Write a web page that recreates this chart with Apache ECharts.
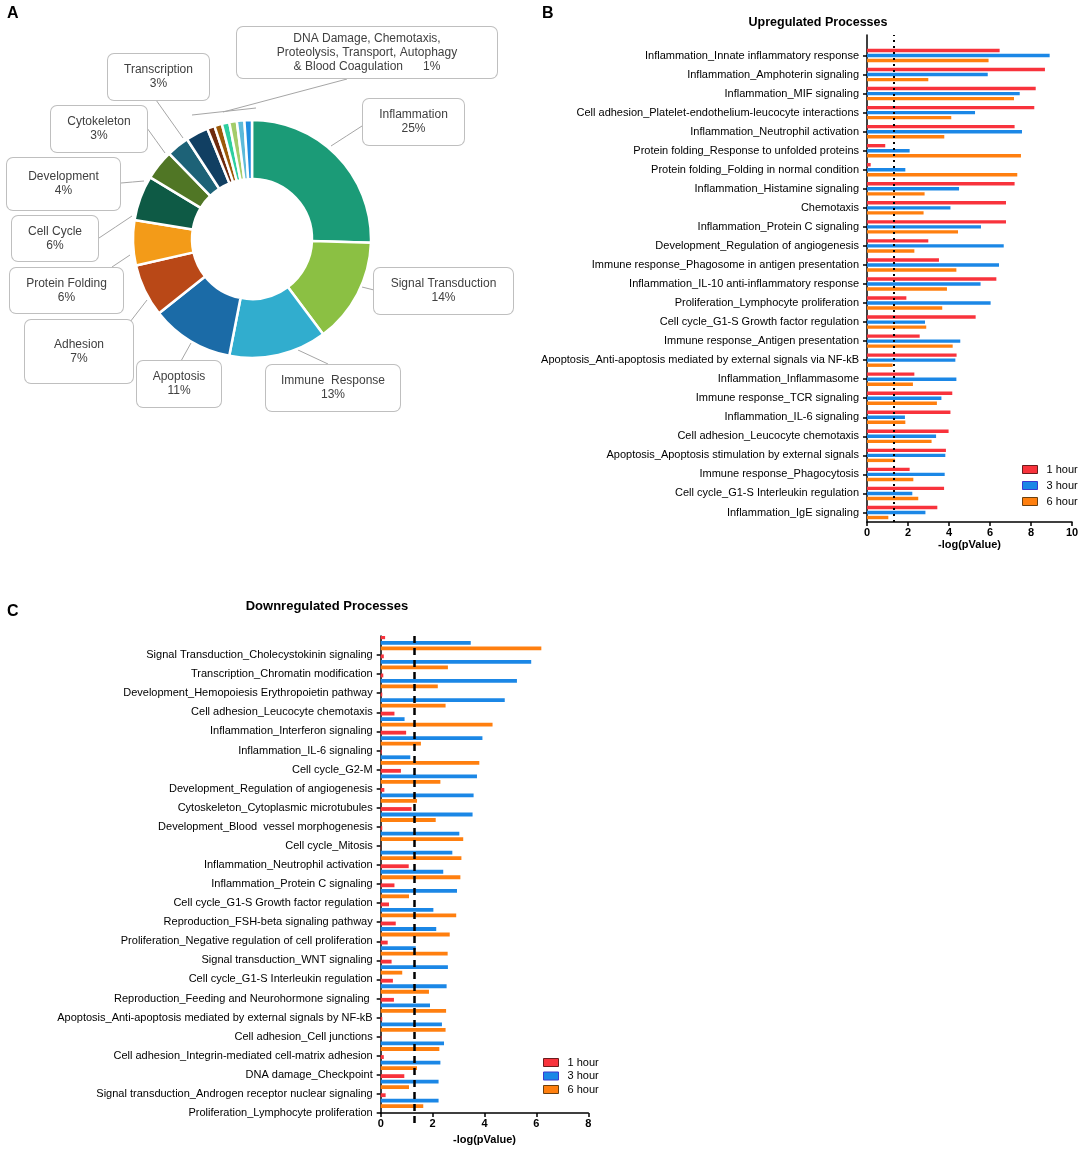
<!DOCTYPE html>
<html><head><meta charset="utf-8">
<script src="https://cdn.jsdelivr.net/npm/echarts@6/dist/echarts.min.js"></script>
<style>html,body{margin:0;padding:0;background:#fff}#c{width:1084px;height:1153px}</style>
</head><body><div id="c"></div>
<script>
// ---------- DATA ----------
const pieNames = ['Inflammation','Signal Transduction','Immune Response','Apoptosis','Adhesion','Protein Folding','Cell Cycle','Development','Cytoskeleton','Transcription','DNA Damage','Chemotaxis','Proteolysis','Transport','Autophagy','Blood Coagulation'];
const pieValues = [25,14,13,11,7,6,6,4,3,3,1,1,1,1,1,1];
const pieLabels = ['Inflammation\n25%','Signal Transduction\n14%','Immune  Response\n13%','Apoptosis\n11%','Adhesion\n7%','Protein Folding\n6%','Cell Cycle\n6%','Development\n4%','Cytokeleton\n3%','Transcription\n3%','DNA Damage, Chemotaxis,\nProteolysis, Transport, Autophagy\n& Blood Coagulation      1%',null,null,null,null,null];
const pieColors = ['#1b9b77','#8bc043','#31adce','#1b6ba7','#b94817','#f39b18','#0e5a45','#507625','#1d6277','#113f62','#6e2a0e','#9c5a08','#2dcf9f','#a3cc6a','#5cbad9','#1f8ce0'];

const seriesNames = ['1 hour','3 hour','6 hour'];
const seriesColors = ['#f8333c','#1b87e6','#ff7f0f'];
const legendBorders = ['#6b1d1d','#3a3ad0','#6b4010'];
const sigThreshold = 1.3;

const upCategories = ['Inflammation_Innate inflammatory response','Inflammation_Amphoterin signaling','Inflammation_MIF signaling','Cell adhesion_Platelet-endothelium-leucocyte interactions','Inflammation_Neutrophil activation','Protein folding_Response to unfolded proteins','Protein folding_Folding in normal condition','Inflammation_Histamine signaling','Chemotaxis','Inflammation_Protein C signaling','Development_Regulation of angiogenesis','Immune response_Phagosome in antigen presentation','Inflammation_IL-10 anti-inflammatory response','Proliferation_Lymphocyte proliferation','Cell cycle_G1-S Growth factor regulation','Immune response_Antigen presentation','Apoptosis_Anti-apoptosis mediated by external signals via NF-kB','Inflammation_Inflammasome','Immune response_TCR signaling','Inflammation_IL-6 signaling','Cell adhesion_Leucocyte chemotaxis','Apoptosis_Apoptosis stimulation by external signals','Immune response_Phagocytosis','Cell cycle_G1-S Interleukin regulation','Inflammation_IgE signaling'];
const up1h = [6.47,8.68,8.23,8.16,7.20,0.89,0.18,7.20,6.78,6.78,2.99,3.51,6.31,1.92,5.30,2.57,4.37,2.31,4.16,4.07,3.98,3.85,2.08,3.76,3.43];
const up3h = [8.91,5.89,7.45,5.27,7.56,2.08,1.87,4.49,4.07,5.56,6.67,6.44,5.54,6.03,2.83,4.55,4.31,4.36,3.63,1.85,3.37,3.82,3.79,2.21,2.85];
const up6h = [5.93,2.99,7.17,4.11,3.77,7.51,7.33,2.81,2.76,4.44,2.31,4.36,3.90,3.67,2.89,4.18,1.25,2.24,3.41,1.87,3.15,1.37,2.26,2.50,1.04];
const upAxisMax = 10;

const downCategories = ['Signal Transduction_Cholecystokinin signaling','Transcription_Chromatin modification','Development_Hemopoiesis Erythropoietin pathway','Cell adhesion_Leucocyte chemotaxis','Inflammation_Interferon signaling','Inflammation_IL-6 signaling','Cell cycle_G2-M','Development_Regulation of angiogenesis','Cytoskeleton_Cytoplasmic microtubules','Development_Blood  vessel morphogenesis','Cell cycle_Mitosis','Inflammation_Neutrophil activation','Inflammation_Protein C signaling','Cell cycle_G1-S Growth factor regulation','Reproduction_FSH-beta signaling pathway','Proliferation_Negative regulation of cell proliferation','Signal transduction_WNT signaling','Cell cycle_G1-S Interleukin regulation','Reproduction_Feeding and Neurohormone signaling ','Apoptosis_Anti-apoptosis mediated by external signals by NF-kB','Cell adhesion_Cell junctions','Cell adhesion_Integrin-mediated cell-matrix adhesion','DNA damage_Checkpoint','Signal transduction_Androgen receptor nuclear signaling','Proliferation_Lymphocyte proliferation'];
const down1h = [0.17,0.12,0.10,0.06,0.53,0.98,0.04,0.78,0.14,1.19,0.06,0.01,1.08,0.53,0.32,0.58,0.27,0.42,0.47,0.51,0.06,0.03,0.12,0.91,0.19];
const down3h = [3.47,5.80,5.25,4.78,0.92,3.92,1.14,3.71,3.58,3.54,3.03,2.76,2.41,2.94,2.03,2.14,1.35,2.59,2.54,1.90,2.36,2.44,2.30,2.23,2.23];
const down6h = [6.19,2.59,2.20,2.50,4.31,1.55,3.80,2.30,1.40,2.12,3.18,3.11,3.07,1.09,2.91,2.66,2.58,0.83,1.86,2.52,2.50,2.26,1.40,1.09,1.64];
const downAxisMax = 8;
const axisInterval = 2;

// ---------- LAYOUT (positions only) ----------
// [centerX, centerY, width, height, lineFromX, lineFromY, lineToX, lineToY]
const pieBoxes = [
  [413.5,122,101,46, 362,126, 331,146],
  [443.5,291,139,46, 374,290, 362,287],
  [333,388,134,46, 328,364, 298,350],
  [179,384,84,46, 181,361, 191,343],
  [79,351.5,108,63, 130,322, 147,300],
  [66.5,290.5,113,45, 112,267, 130,255],
  [55,238.5,86,45, 99,238, 132,216],
  [63.5,184,113,52, 121,183, 144,181],
  [99,129,96,46, 147,128, 165,153],
  [158.5,77,101,46, 156,100, 183,138],
  [367,52.5,260,51, 347,79, 223,112]
];
const FONT = 'Liberation Sans, Arial, Helvetica, sans-serif';

const chart = echarts.init(document.getElementById('c'), null, {renderer:'canvas'});

const pieData = pieNames.map((n,i)=>{
  const lab = pieLabels[i];
  const item = {name:n, value:pieValues[i], itemStyle:{color:pieColors[i]}};
  if (lab) {
    const b = pieBoxes[i];
    const lines = lab.split('\n').length;
    const pad = (b[3] - lines*14)/2;
    item.label = {show:true, formatter:lab, width:b[2], padding:[pad,0,pad,0]};
    item.labelLine = {show:true};
  } else {
    item.label = {show:false};
    item.labelLine = {show:false};
  }
  return item;
});

function catAxisLabel(){ return {fontSize:11, color:'#000', fontFamily:FONT, margin:8, interval:0}; }
const blackLine = {show:true, lineStyle:{color:'#000', width:1.5}};
function legendItems(){ return seriesNames.map((n,i)=>({name:n, itemStyle:{color:seriesColors[i], borderColor:legendBorders[i], borderWidth:1}})); }

const option = {
  animation:false,
  backgroundColor:'#fff',
  textStyle:{fontFamily:FONT},
  graphic:[
    {type:'text', x:7, y:6, style:{text:'A', font:'bold 16px '+FONT, fill:'#000'}},
    {type:'text', x:542, y:6, style:{text:'B', font:'bold 16px '+FONT, fill:'#000'}},
    {type:'text', x:7, y:604, style:{text:'C', font:'bold 16px '+FONT, fill:'#000'}},
    {type:'text', x:818, y:16, style:{text:'Upregulated Processes', font:'bold 12.5px '+FONT, fill:'#000', textAlign:'center'}},
    {type:'text', x:327, y:600, style:{text:'Downregulated Processes', font:'bold 13px '+FONT, fill:'#000', textAlign:'center'}},
    {type:'line', shape:{x1:192,y1:115,x2:256,y2:108}, style:{stroke:'#a6a6a6', lineWidth:1}}
  ],
  legend:[
    {left:1022, top:464, padding:0, orient:'vertical', itemWidth:15, itemHeight:8, itemGap:5, icon:'rect', selectedMode:false,
     textStyle:{fontSize:11, color:'#000', fontFamily:FONT, padding:[0,0,0,4]}, data:legendItems()},
    {left:543, top:1057, padding:0, orient:'vertical', itemWidth:15, itemHeight:8, itemGap:2.5, icon:'rect', selectedMode:false,
     textStyle:{fontSize:11, color:'#000', fontFamily:FONT, padding:[0,0,0,4]}, data:legendItems()}
  ],
  grid:[
    {left:867, top:46, width:205, height:476, outerBoundsMode:'none'},       // 0 B bars
    {left:867, top:35, width:205, height:487, outerBoundsMode:'none'},       // 1 B axis line + threshold
    {left:380.7, top:636, width:207.6, height:477, outerBoundsMode:'none'},  // 2 C bars
    {left:380.7, top:636, width:207.6, height:477, outerBoundsMode:'none'},  // 3 C labels
    {left:380.7, top:636, width:207.6, height:487, outerBoundsMode:'none'}   // 4 C threshold
  ],
  xAxis:[
    {gridIndex:0, type:'value', min:0, max:upAxisMax, interval:axisInterval, axisLine:blackLine,
     axisTick:{show:true, length:4, lineStyle:{color:'#000', width:1.5}}, splitLine:{show:false},
     axisLabel:{fontSize:11, fontWeight:'bold', color:'#000', fontFamily:FONT, margin:5},
     name:'-log(pValue)', nameLocation:'middle', nameGap:17, nameTextStyle:{fontSize:11, fontWeight:'bold', color:'#000', fontFamily:FONT}},
    {gridIndex:1, type:'value', min:0, max:upAxisMax, show:false},
    {gridIndex:2, type:'value', min:0, max:downAxisMax, interval:axisInterval, axisLine:blackLine,
     axisTick:{show:true, length:4, lineStyle:{color:'#000', width:1.5}}, splitLine:{show:false},
     axisLabel:{fontSize:11, fontWeight:'bold', color:'#000', fontFamily:FONT, margin:5},
     name:'-log(pValue)', nameLocation:'middle', nameGap:21, nameTextStyle:{fontSize:11, fontWeight:'bold', color:'#000', fontFamily:FONT}},
    {gridIndex:3, type:'value', min:0, max:downAxisMax, show:false},
    {gridIndex:4, type:'value', min:0, max:downAxisMax, show:false}
  ],
  yAxis:[
    {gridIndex:0, type:'category', inverse:true, data:upCategories, axisLine:{show:false},
     axisTick:{show:true, alignWithLabel:true, length:4, lineStyle:{color:'#000', width:1.5}},
     axisLabel:catAxisLabel(), splitLine:{show:false}},
    {gridIndex:1, type:'value', min:0, max:1, axisLine:blackLine, axisTick:{show:false}, axisLabel:{show:false}, splitLine:{show:false}},
    {gridIndex:2, type:'category', inverse:true, data:downCategories, show:false},
    {gridIndex:3, type:'category', inverse:true, boundaryGap:false, data:[''].concat(downCategories), axisLine:blackLine,
     axisTick:{show:true, length:4, interval:function(i){return i>0;}, lineStyle:{color:'#000', width:1.5}},
     axisLabel:catAxisLabel(), splitLine:{show:false}},
    {gridIndex:4, type:'value', min:0, max:1, show:false}
  ],
  series:[
    {type:'pie', center:[252,239], radius:[60,119], startAngle:90, clockwise:true, avoidLabelOverlap:false,
     itemStyle:{borderColor:'#fff', borderWidth:2.5},
     label:{show:true, position:'outside', color:'#404040', fontSize:12, lineHeight:14, fontFamily:FONT,
            backgroundColor:'#fff', borderColor:'#bfbfbf', borderWidth:1, borderRadius:6, align:'center'},
     labelLine:{show:true, length:5, length2:5, lineStyle:{color:'#a6a6a6', width:1}},
     labelLayout:function(p){
       const b = pieBoxes[p.dataIndex];
       if(!b) return {};
       return {x:b[0], y:b[1], align:'center', verticalAlign:'middle',
               labelLinePoints:[[b[6],b[7]],[(b[4]+b[6])/2,(b[5]+b[7])/2],[b[4],b[5]]]};
     },
     emphasis:{disabled:true}, silent:true,
     data:pieData},
    {name:seriesNames[0], type:'bar', xAxisIndex:0, yAxisIndex:0, data:up1h, barWidth:3.4, barGap:'48%', itemStyle:{color:seriesColors[0]}, silent:true},
    {name:seriesNames[1], type:'bar', xAxisIndex:0, yAxisIndex:0, data:up3h, barWidth:3.4, barGap:'48%', itemStyle:{color:seriesColors[1]}, silent:true},
    {name:seriesNames[2], type:'bar', xAxisIndex:0, yAxisIndex:0, data:up6h, barWidth:3.4, barGap:'48%', itemStyle:{color:seriesColors[2]}, silent:true},
    {type:'line', xAxisIndex:1, yAxisIndex:1, data:[], silent:true,
     markLine:{silent:true, symbol:['none','none'], label:{show:false}, lineStyle:{color:'#000', type:[2,4], width:2}, data:[{xAxis:sigThreshold}]}},
    {name:seriesNames[0], type:'bar', xAxisIndex:2, yAxisIndex:2, data:down1h, barWidth:3.8, barGap:'45%', itemStyle:{color:seriesColors[0]}, silent:true},
    {name:seriesNames[1], type:'bar', xAxisIndex:2, yAxisIndex:2, data:down3h, barWidth:3.8, barGap:'45%', itemStyle:{color:seriesColors[1]}, silent:true},
    {name:seriesNames[2], type:'bar', xAxisIndex:2, yAxisIndex:2, data:down6h, barWidth:3.8, barGap:'45%', itemStyle:{color:seriesColors[2]}, silent:true},
    {name:'spacer', type:'bar', xAxisIndex:2, yAxisIndex:2, data:[], barWidth:3.8, barGap:'45%', silent:true},
    {type:'line', xAxisIndex:4, yAxisIndex:4, data:[], silent:true,
     markLine:{silent:true, symbol:['none','none'], label:{show:false}, lineStyle:{color:'#000', type:[7,5], width:2.5}, data:[{xAxis:sigThreshold}]}}
  ]
};
chart.setOption(option);
</script></body></html>
